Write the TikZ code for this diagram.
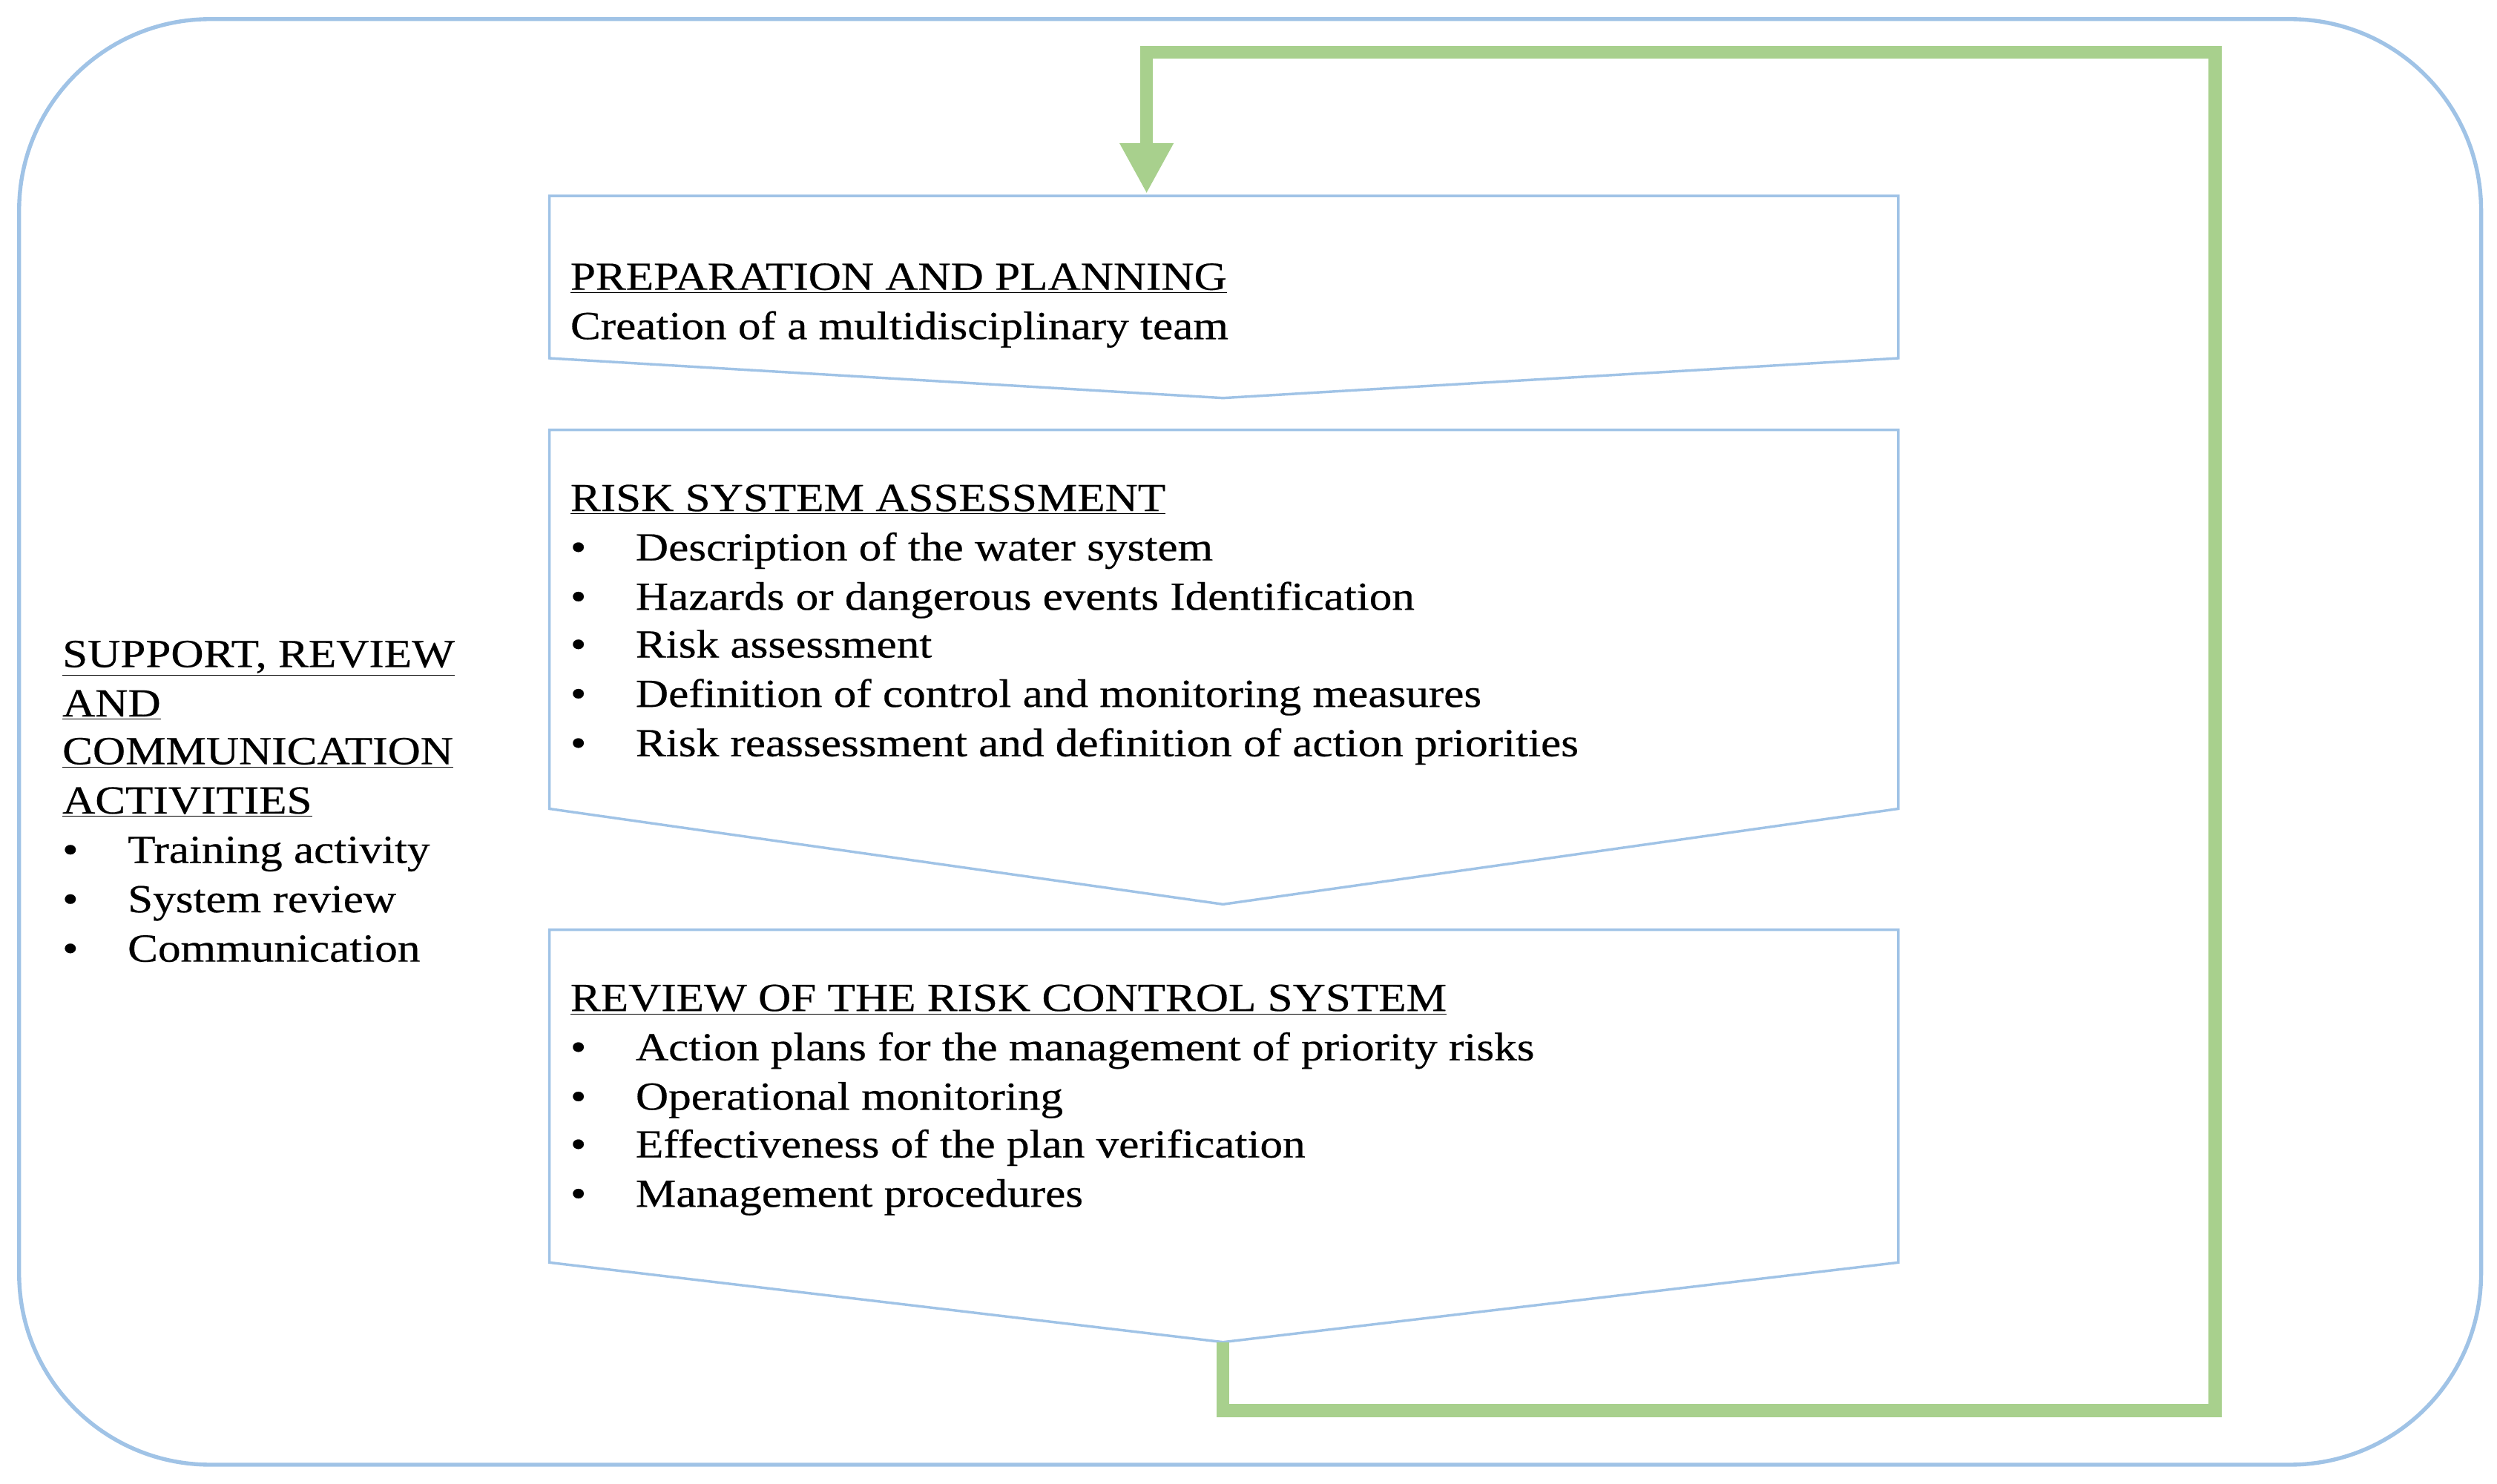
\documentclass[tikz,border=0pt]{standalone}
\usepackage{fontspec}
\setmainfont{Liberation Serif}[FakeStretch=1.14,FakeBold=0.4]
\usetikzlibrary{arrows.meta}
\begin{document}
\begin{tikzpicture}[x=1pt,y=-1pt,
  txt/.style={anchor=base west, inner sep=0pt, font=\fontsize{25}{31}\selectfont}]
\definecolor{bl}{RGB}{160,195,230}
\definecolor{gr}{RGB}{168,208,141}
\useasboundingbox (0,0) rectangle (1568,932);
\draw[draw=bl,line width=2.5pt,rounded corners=120pt] (12,12) rectangle (1558,920);
% boxes
\draw[draw=bl,line width=1.6pt] (345,123) -- (1192,123) -- (1192,225) -- (768,250) coordinate (p1) -- (345,225) -- cycle;
\draw[draw=bl,line width=1.6pt] (345,270) -- (1192,270) -- (1192,508) -- (768,568) coordinate (p2) -- (345,508) -- cycle;
\draw[draw=bl,line width=1.6pt] (345,584) -- (1192,584) -- (1192,793) -- (768,843) coordinate (p3) -- (345,793) -- cycle;
% green loop
\coordinate (g1) at (768,886);
\coordinate (g2) at (1391,886);
\coordinate (g3) at (1391,33);
\coordinate (g4) at (720,33);
\coordinate (tip) at (720,121);
\draw[draw=gr,line width=8pt,line join=miter] (p3) -- (g1) -- (g2) -- (g3) -- (g4) -- (720,92);
\fill[gr] (703,90) -- (737,90) -- (tip) -- cycle;
% texts box1
\node[txt] (t1) at (358,182) {\underline{PREPARATION AND PLANNING}};
\node[txt] (t2) at (358,213) {Creation of a multidisciplinary team};
% box2
\node[txt] (r0) at (358,321) {\underline{RISK SYSTEM ASSESSMENT}};
\foreach \y/\s [count=\i] in {352/Description of the water system,383/Hazards or dangerous events Identification,413/Risk assessment,444/Definition of control and monitoring measures,475/Risk reassessment and definition of action priorities}{
  \node[txt] (rb\i) at (358,\y) {•};
  \node[txt] (r\i) at (399,\y) {\s};}
% box3
\node[txt] (v0) at (358,635) {\underline{REVIEW OF THE RISK CONTROL SYSTEM}};
\foreach \y/\s [count=\i] in {666/Action plans for the management of priority risks,697/Operational monitoring,727/Effectiveness of the plan verification,758/Management procedures}{
  \node[txt] (vb\i) at (358,\y) {•};
  \node[txt] (v\i) at (399,\y) {\s};}
% left
\node[txt] (s1) at (39,419) {\underline{SUPPORT, REVIEW}};
\node[txt] (s2) at (39,450) {\underline{AND}};
\node[txt] (s3) at (39,480) {\underline{COMMUNICATION}};
\node[txt] (s4) at (39,511) {\underline{ACTIVITIES}};
\foreach \y/\s [count=\i] in {542/Training activity,573/System review,604/Communication}{
  \node[txt] (lb\i) at (39,\y) {•};
  \node[txt] (l\i) at (80,\y) {\s};}
\end{tikzpicture}
\end{document}
